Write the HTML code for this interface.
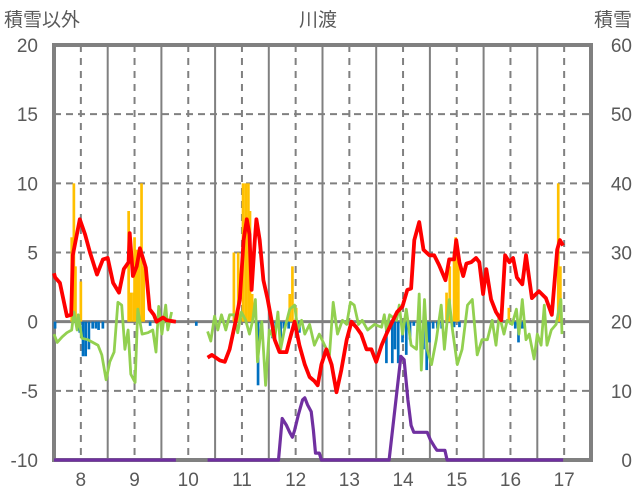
<!DOCTYPE html>
<html><head><meta charset="utf-8"><style>
body{margin:0;background:#fff;}
svg{display:block;font-family:"Liberation Sans","Noto Sans CJK JP",sans-serif;}
</style></head><body>
<svg id="chart" width="636" height="501" viewBox="0 0 636 501"></svg>
<script>
const xTicks=[8,9,10,11,12,13,14,15,16,17];
const leftTicks=[-10,-5,0,5,10,15,20];
const rightTicks=[0,10,20,30,40,50,60];
const redT=[7.50,7.52,7.61,7.74,7.82,7.85,7.98,8.08,8.17,8.30,8.41,8.50,8.60,8.71,8.80,8.89,8.91,8.97,9.04,9.10,9.21,9.28,9.36,9.41,9.53,9.60,9.77,null,10.36,10.44,10.59,10.68,10.77,10.88,10.96,11.03,11.09,11.14,11.18,11.24,11.27,11.33,11.40,11.48,11.55,11.61,11.70,11.83,11.89,11.98,12.07,12.17,12.26,12.35,12.41,12.48,12.57,12.67,12.76,12.85,12.95,13.04,13.13,13.22,13.32,13.41,13.50,13.60,13.69,13.80,13.89,13.99,14.08,14.15,14.21,14.30,14.38,14.49,14.58,14.67,14.79,14.86,14.95,14.99,15.05,15.12,15.18,15.27,15.36,15.42,15.49,15.55,15.64,15.73,15.83,15.90,15.98,16.05,16.12,16.22,16.29,16.40,16.53,16.66,16.77,16.87,16.92,16.98];
const redV=[3.5,3.2,2.8,0.4,0.5,4.8,7.4,6.3,5.0,3.4,4.5,4.6,2.8,2.1,3.8,4.3,6.4,3.3,4.0,5.3,3.9,0.9,0.5,0.0,0.3,0.1,0.0,null,-2.6,-2.4,-2.8,-2.9,-2.0,0.0,1.6,5.9,7.4,6.3,2.3,5.9,7.4,5.9,3.0,1.6,0.1,-1.3,-2.2,-2.2,-1.3,0.0,-1.7,-3.1,-4.0,-4.3,-4.6,-3.1,-2.0,-3.1,-5.1,-3.5,-1.3,0.0,-0.4,-0.9,-2.0,-2.0,-2.9,-1.7,-0.9,0.0,0.7,1.1,2.3,2.4,5.9,7.2,5.2,4.8,4.8,4.1,3.0,4.5,4.5,5.9,4.3,3.3,4.2,4.3,4.6,4.3,2.0,3.8,1.6,0.7,0.1,4.8,4.3,4.6,3.2,2.7,4.8,1.7,2.2,1.7,0.5,5.2,5.9,5.5];
const greenT=[7.50,7.56,7.65,7.74,7.83,7.87,7.93,7.95,8.02,8.13,8.22,8.32,8.39,8.47,8.54,8.62,8.69,8.76,8.82,8.88,8.93,9.01,9.06,9.14,9.25,9.34,9.40,9.45,9.51,9.58,9.62,9.69,null,10.36,10.42,10.49,10.55,10.62,10.70,10.77,10.86,10.92,10.99,11.07,11.14,11.20,11.25,11.29,11.37,11.44,11.51,11.61,11.67,11.72,11.79,11.89,11.98,12.04,12.11,12.17,12.26,12.35,12.44,12.54,12.63,12.70,12.78,12.87,12.95,13.02,13.09,13.17,13.24,13.34,13.47,13.60,13.65,13.69,13.75,13.88,13.93,13.99,14.06,14.15,14.25,14.30,14.34,14.40,14.45,14.53,14.62,14.71,14.77,14.86,14.92,15.01,15.10,15.20,15.29,15.38,15.47,15.57,15.66,15.73,15.79,15.88,15.94,16.03,16.11,16.16,16.22,16.29,16.35,16.44,16.50,16.57,16.63,16.68,16.76,16.85,16.94,16.96];
const greenV=[-0.9,-1.5,-1.1,-0.8,-0.6,0.7,-0.6,0.5,-1.2,-1.3,-1.5,-1.7,-2.4,-4.2,-2.9,-2.2,1.4,1.2,-2.0,-0.6,-3.8,-4.4,0.9,-0.9,-0.8,-0.6,-2.2,1.1,-0.9,1.2,-0.6,0.7,null,-0.7,-1.4,0.4,-0.6,0.5,-0.6,0.5,0.5,-0.8,0.7,0.1,-0.9,0.1,1.6,-2.9,0,-4.6,-0.6,-1.3,0.7,-2.0,-0.6,0.9,1.2,-0.6,0.1,-0.9,-0.2,-1.7,-0.9,-1.7,-2.4,1.4,-0.9,0.1,-0.2,1.4,1.2,-0.2,0.1,-0.6,-0.2,-0.4,0.5,-0.6,0.5,0.1,1.2,-0.9,0.9,-1.7,-2.0,2.0,-3.5,1.6,-2.0,-3.1,-1.3,1.2,-2.0,1.6,-0.6,-3.1,-2.0,1.2,1.6,-2.4,-1.3,-1.3,0.1,-1.7,0.5,-0.9,0.1,-0.2,0.9,-0.9,1.6,-1.3,-0.9,-2.7,-0.9,-1.7,1.2,-1.7,-0.6,-0.2,1.6,-0.9];
const snowT=[7.50,9.77,null,10.36,11.68,11.75,11.83,11.89,11.94,11.98,12.05,12.13,12.17,12.22,12.29,12.33,12.37,12.44,12.48,12.52,13.74,13.96,14.02,14.09,14.15,14.20,14.24,14.45,14.51,14.58,14.63,14.78,14.82,16.98];
const snowV=[0,0,null,0,0,6,5,4,3.3,4.3,6.5,8.7,9,8,7,4.3,1,1,0,0,0,15,14.5,8.7,5,4,4,4,2.9,2,1.4,1.4,0,0];
const orangeT=[7.83,7.87,7.90,8.00,8.89,8.93,8.98,9.00,9.04,9.08,9.13,9.17,10.85,10.93,11.02,11.07,11.12,11.15,11.19,11.89,11.94,12.01,14.81,14.87,14.95,14.98,15.03,15.97,16.89,16.93];
const orangeV=[6.1,10,4.0,2.9,8.0,2.1,2.1,6.1,5.2,5.2,10,4.0,5.0,5.0,10,10,10,8,2,2.0,4.0,1.0,2.1,4.0,5.0,6.1,5.0,1.0,10,4.0];
const blueT=[7.52,7.98,8.04,8.09,8.15,8.22,8.28,8.33,8.41,9.29,10.15,11.30,11.36,11.57,11.63,11.72,11.78,11.87,12.07,13.69,13.74,13.80,13.85,13.91,13.99,14.06,14.13,14.20,14.30,14.38,14.44,14.49,14.56,14.64,14.72,14.95,15.05,16.09,16.15,16.22];
const blueV=[-0.5,-0.8,-2.5,-2.5,-2.0,-0.5,-0.5,-0.6,-0.5,-0.3,-0.3,-4.6,-0.6,-1.2,-0.5,-2.0,-0.5,-0.5,-0.8,-3.0,-0.4,-3.0,-2.0,-3.0,-1.5,-2.4,-1.3,-0.3,-0.5,-2.0,-3.5,-1.5,-0.5,-0.5,-0.5,-0.4,-0.4,-0.5,-1.5,-0.5];

const L=54,R=591,T=45,B=460;
const xS=v=>L+(v-7.5)*(R-L)/10;
const yL=v=>B-(v+10)*(B-T)/30;
const yR=v=>B-v*(B-T)/60;
const svg=document.getElementById('chart');
const NS='http://www.w3.org/2000/svg';
function mk(tag,attrs,parent){const e=document.createElementNS(NS,tag);for(const k in attrs)e.setAttribute(k,attrs[k]);(parent||svg).appendChild(e);return e;}

leftTicks.forEach(t=>{
  if(t===-10||t===20)return;
  const g=mk('line',{x1:L,x2:R,y1:yL(t),y2:yL(t),stroke:'#808080','stroke-width':t===0?3:2,'stroke-dasharray':t===0?'none':'7,5'});
  
  
});
xTicks.forEach(t=>{
  const g=mk('line',{x1:xS(t),x2:xS(t),y1:T,y2:B,stroke:'#808080','stroke-width':2,'stroke-dasharray':'7,6'});
  
  
  if(t<17){
    const s=mk('line',{x1:xS(t+0.5),x2:xS(t+0.5),y1:T,y2:B,stroke:'#808080','stroke-width':2});
    
    
  }
});
const fr=mk('rect',{x:L,y:T,width:R-L,height:B-T,fill:'none',stroke:'#808080','stroke-width':4});


const bw=(R-L)/10*0.05;
orangeT.forEach((t,i)=>{
  const v=orangeV[i];
  const r=mk('rect',{x:xS(t)-bw/2,y:yL(v),width:bw,height:yL(0)-yL(v),fill:'#FFC000'});
  
  
});
blueT.forEach((t,i)=>{
  const v=blueV[i];
  const r=mk('rect',{x:xS(t)-bw/2,y:yL(0),width:bw,height:yL(v)-yL(0),fill:'#0070C0'});
  
  
});
function path(ts,vs,ys){let d='',pen=false;ts.forEach((t,i)=>{if(t===null||vs[i]===null){pen=false;return;}d+=(pen?'L':'M')+xS(t).toFixed(1)+','+ys(vs[i]).toFixed(1);pen=true;});return d;}
const gl=mk('path',{d:path(greenT,greenV,yL),fill:'none',stroke:'#92D050','stroke-width':2.8,'stroke-linejoin':'round'});


const rl=mk('path',{d:path(redT,redV,yL),fill:'none',stroke:'#FF0000','stroke-width':3.8,'stroke-linejoin':'round'});


const pl=mk('path',{d:path(snowT,snowV,yR),fill:'none',stroke:'#7030A0','stroke-width':3.2,'stroke-linejoin':'round'});


leftTicks.forEach(t=>{
  const e=mk('text',{x:38,y:yL(t)+7,'text-anchor':'end','font-size':19,fill:'#595959'});
  e.textContent=t;
  
  
});
rightTicks.forEach(t=>{
  const e=mk('text',{x:632,y:yR(t)+7,'text-anchor':'end','font-size':19,fill:'#595959'});
  e.textContent=t;
  
  
});
xTicks.forEach(t=>{
  const e=mk('text',{x:xS(t),y:486,'text-anchor':'middle','font-size':19,fill:'#595959'});
  e.textContent=t;
  
  
});
</script>
<svg style="position:absolute;left:0;top:0" width="636" height="40">
<text x="4" y="26" font-size="19" fill="#595959" font-family="Liberation Sans,Noto Sans CJK JP,sans-serif">積雪以外</text>
<text x="318" y="26" font-size="19" fill="#595959" text-anchor="middle" font-family="Liberation Sans,Noto Sans CJK JP,sans-serif">川渡</text>
<text x="632" y="26" font-size="19" fill="#595959" text-anchor="end" font-family="Liberation Sans,Noto Sans CJK JP,sans-serif">積雪</text>
</svg>
</body></html>
